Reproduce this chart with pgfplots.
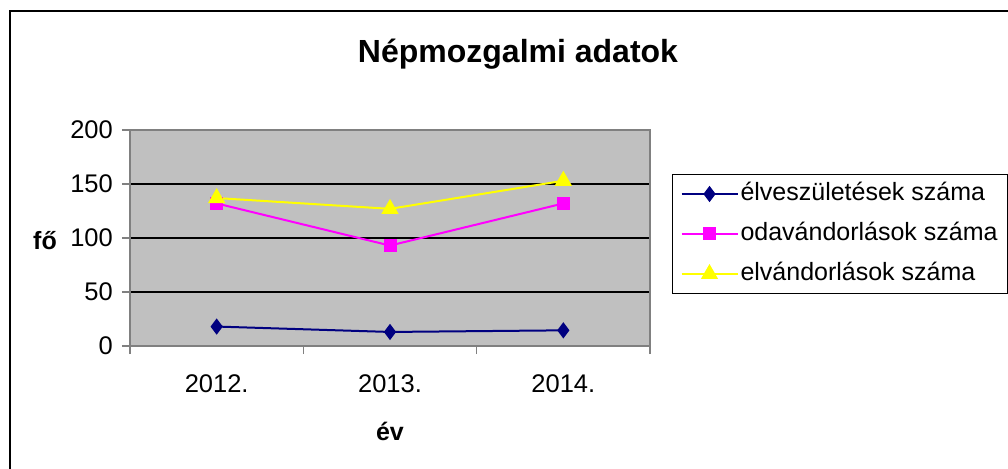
\documentclass[border=0pt]{standalone}
\usepackage{pgfplots}
\pgfplotsset{compat=1.18}
\usepackage{fontspec}
\setmainfont{Liberation Sans}
\definecolor{plotgray}{HTML}{C0C0C0}
\definecolor{framegray}{HTML}{808080}
\definecolor{navyb}{HTML}{000080}
\definecolor{mag}{HTML}{FF00FF}
\definecolor{yel}{HTML}{FFFF00}
\begin{document}
\begin{tikzpicture}[x=1pt,y=1pt]
\useasboundingbox (0,0) rectangle (1008,468);
\clip (0,0) rectangle (1008,468);
\fill[white] (0,0) rectangle (1008,468);
\draw[black, line width=2pt] (10,457) rectangle (1030,-20);
\node[anchor=base, inner sep=0pt, font=\fontsize{32}{38}\selectfont\bfseries] at (518,405) {Népmozgalmi adatok};
\begin{axis}[
  at={(130pt,122pt)}, anchor=south west,
  scale only axis, width=520pt, height=216pt,
  xmin=0, xmax=3, ymin=0, ymax=200,
  axis background/.style={fill=plotgray},
  axis line style={framegray, line width=1.2pt},
  ymajorgrids, major grid style={black, line width=1.2pt},
  ytick={0,50,100,150,200},
  xtick={0,1,2,3}, xticklabels={,,,},
  extra x ticks={0.5,1.5,2.5},
  extra x tick labels={2012.,2013.,2014.},
  extra x tick style={major tick length=0pt, grid=none},
  xtick pos=bottom, ytick pos=left,
  tick align=outside, major tick length=8pt,
  tick style={framegray, line width=1.2pt},
  /pgf/number format/assume math mode=true,
  ticklabel style={font=\fontsize{25.5}{30}\selectfont},
  yticklabel style={anchor=base east, inner sep=0pt, yshift=-9pt, xshift=-9pt},
  xticklabel style={anchor=base, inner sep=0pt, yshift=-47pt},
  xlabel={év}, ylabel={fő},
  label style={font=\fontsize{25}{30}\selectfont\bfseries},
  xlabel style={at={(axis description cs:0.5,-0.4398)}, anchor=base, inner sep=0pt},
  ylabel style={rotate=-90, at={(axis description cs:-0.1635,0.449)}, anchor=base, inner sep=0pt},
  legend style={at={(1.0423,0.7963)}, anchor=north west, draw=black, line width=1pt,
    fill=white, font=\fontsize{25}{30}\selectfont, inner xsep=8pt, inner ysep=6pt,
    row sep=13pt, nodes={inner sep=2pt, text height=18pt, text depth=5pt}},
  legend cell align=left,
  legend image code/.code={\draw[mark repeat=2,mark phase=2] plot coordinates {(0pt,0pt) (28pt,0pt) (56pt,0pt)};},
  clip=false,
]
\addplot[navyb, line width=2pt, mark=diamond*, mark size=6.5pt, mark options={solid,fill=navyb}] coordinates {(0.5,18) (1.5,13) (2.5,14.5)};
\addlegendentry{élveszületések száma}
\addplot[mag, line width=2pt, mark=square*, mark size=5.5pt, mark options={solid,fill=mag}] coordinates {(0.5,132) (1.5,93) (2.5,132)};
\addlegendentry{odavándorlások száma}
\addplot[yel, line width=2pt, mark=triangle*, mark size=8pt, mark options={solid,fill=yel}] coordinates {(0.5,137) (1.5,127) (2.5,153)};
\addlegendentry{elvándorlások száma}
\end{axis}
\end{tikzpicture}
\end{document}
